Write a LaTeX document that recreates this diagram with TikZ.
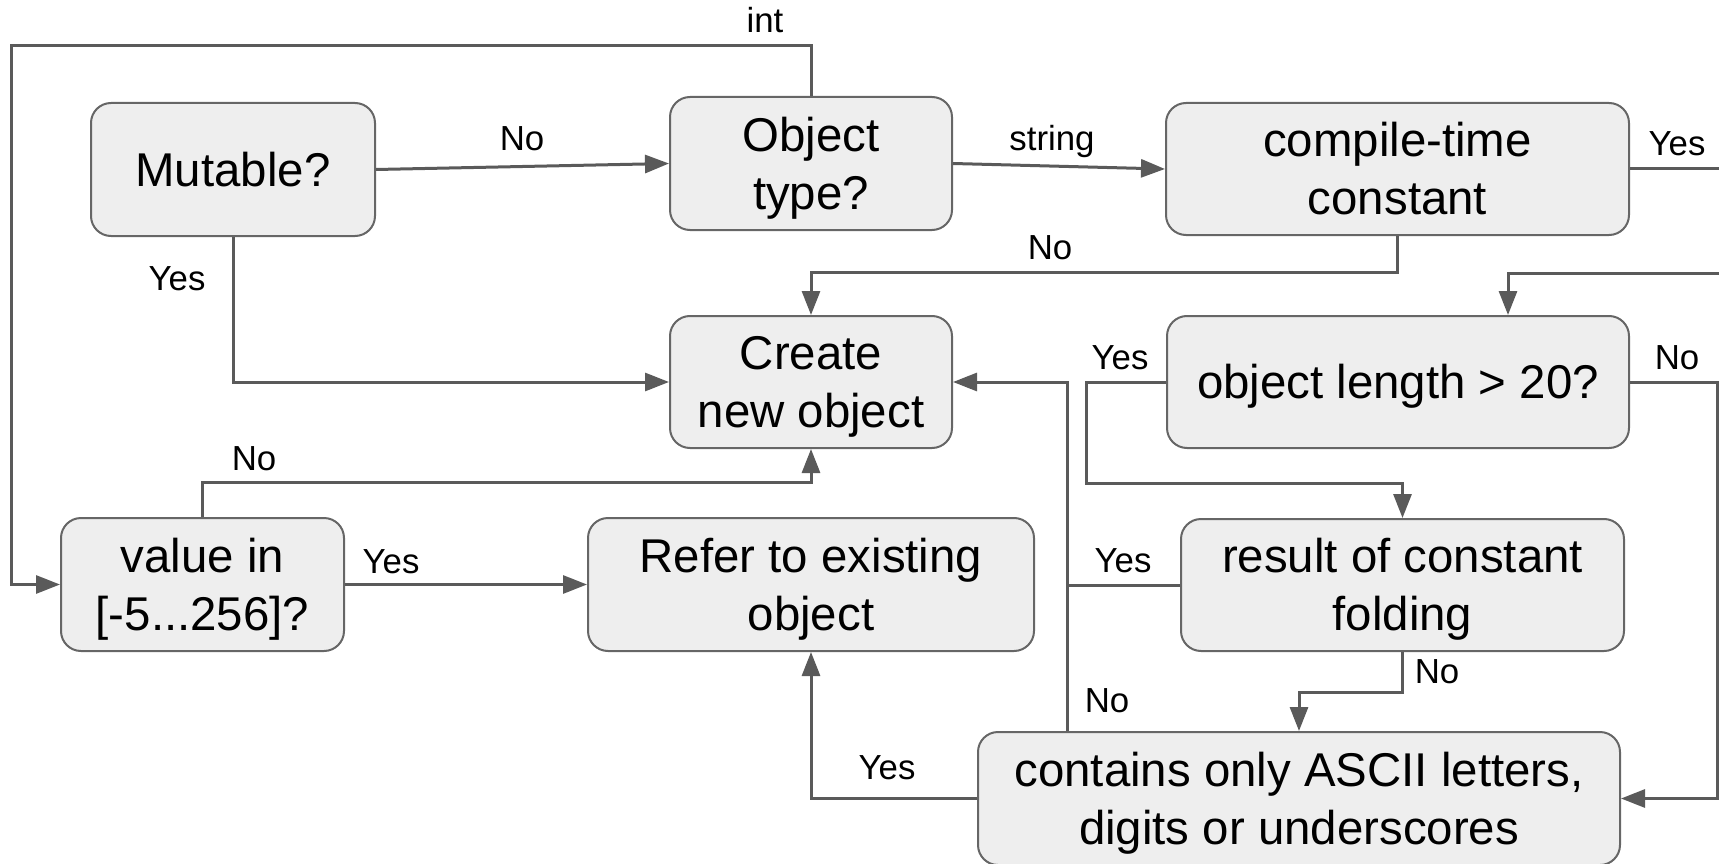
\documentclass[tikz,border=0pt]{standalone}
\usepackage{fontspec}
\setmainfont{Liberation Sans}
\usepackage{tikz}
\usetikzlibrary{arrows.meta}
\definecolor{boxfill}{HTML}{EEEEEE}
\definecolor{boxline}{HTML}{666666}
\definecolor{wire}{HTML}{5A5A5A}
\newcommand{\ls}{\rule[-11pt]{0pt}{55pt}}
\tikzset{
	box/.style={draw=boxline, fill=boxfill, line width=2pt, rounded corners=20pt, align=center, inner sep=0pt, font=\fontsize{47.4pt}{58pt}\selectfont},
	flow/.style={draw=wire, line width=3pt, -{Triangle[length=24pt, width=18pt]}},
	wireonly/.style={draw=wire, line width=3pt},
	lbl/.style={anchor=base, inner sep=0pt, font=\fontsize{34.8pt}{40pt}\selectfont}
}
\begin{document}
\begin{tikzpicture}[x=1pt, y=-1pt]
				\useasboundingbox (0,0) rectangle (1719,864);
				% Boxes, wires and labels:
				\node[box, minimum width=284pt, minimum height=133pt] (mutable) at (233,169.5) {\ls Mutable?};
				\node[box, minimum width=282pt, minimum height=133pt] (objtype) at (811,163.5) {\ls Object\\\ls type?};
				\node[box, minimum width=463pt, minimum height=132pt] (compile) at (1397.5,169) {\ls compile-time\\\ls constant};
				\node[box, minimum width=282pt, minimum height=132pt] (create) at (811,382) {\ls Create\\\ls new object};
				\node[box, minimum width=462pt, minimum height=132pt] (objlen) at (1398,382) {\ls object length > 20?};
				\node[box, minimum width=283pt, minimum height=133pt] (value) at (202.5,584.5) {\ls value in\\\ls [-5...256]?};
				\node[box, minimum width=446pt, minimum height=133pt] (refer) at (811,584.5) {\ls Refer to existing\\\ls object};
				\node[box, minimum width=443pt, minimum height=132pt] (result) at (1402.5,585) {\ls result of constant\\\ls folding};
				\node[box, minimum width=642pt, minimum height=133pt] (ascii) at (1299,798.5) {\ls contains only ASCII letters,\\\ls digits or underscores};
				\coordinate (loopX) at (11,46);
				\coordinate (rim) at (1719,0);
				\coordinate (lenX) at (1508,0);
				\coordinate (trunk) at (1067,0);
				\draw[flow] (objtype.north) |- (loopX) |- (value.west);
				\draw[flow] (mutable.east) -- (objtype.west);
				\draw[flow] (objtype.east) -- (compile.west);
				\draw[wireonly] (compile.east) -- (compile.east -| rim);
				\draw[flow] (compile.south) -- ++(0,36) -| (create.north);
				\draw[flow] (mutable.south) |- (create.west);
				\draw[flow] (rim |- 0,273) -| (objlen.north -| lenX);
				\draw[flow] (objlen.west) -- ++(-80,0) -- ++(0,101) -| (result.north);
				\draw[flow] (objlen.east) -- ++(87,0) |- (ascii.east);
				\draw[flow] (ascii.north -| trunk) |- (create.east);
				\draw[wireonly] (result.west) -- (result.west -| trunk);
				\draw[flow] (result.south) -- ++(0,40) -| (ascii.north);
				\draw[flow] (ascii.west) -| (refer.south);
				\draw[flow] (value.east) -- (refer.west);
				\draw[flow] (value.north) -- ++(0,-35) -| (create.south);
				\node[lbl] (lInt) at (765,33) {int};
				\node[lbl] (lMutNo) at (522,151) {No};
				\node[lbl] (lStr) at (1052,151) {string};
				\node[lbl] (lConstYes) at (1677,156) {Yes};
				\node[lbl] (lConstNo) at (1050,259) {No};
				\node[lbl] (lMutYes) at (177,290) {Yes};
				\node[lbl] (lLenYes) at (1120,369) {Yes};
				\node[lbl] (lLenNo) at (1677,369) {No};
				\node[lbl] (lValNo) at (254,470) {No};
				\node[lbl] (lValYes) at (391,573) {Yes};
				\node[lbl] (lFoldYes) at (1123,572) {Yes};
				\node[lbl] (lFoldNo) at (1437,683) {No};
				\node[lbl] (lAsciiNo) at (1107,712) {No};
				\node[lbl] (lAsciiYes) at (887,779) {Yes};
\end{tikzpicture}
\end{document}
